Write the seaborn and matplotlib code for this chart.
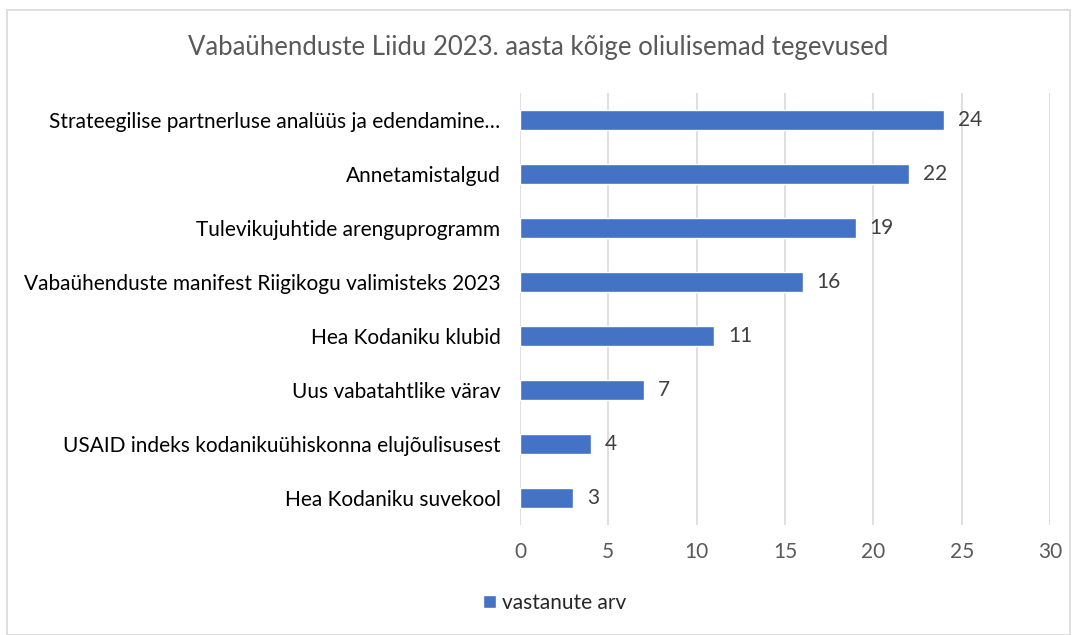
import numpy as np
import pandas as pd
import matplotlib
matplotlib.use('Agg')
import matplotlib.pyplot as plt
import seaborn as sns
from matplotlib.patches import Rectangle

categories = [
    "Strateegilise partnerluse analüüs ja edendamine…",
    "Annetamistalgud",
    "Tulevikujuhtide arenguprogramm",
    "Vabaühenduste manifest Riigikogu valimisteks 2023",
    "Hea Kodaniku klubid",
    "Uus vabatahtlike värav",
    "USAID indeks kodanikuühiskonna elujõulisusest",
    "Hea Kodaniku suvekool",
]
values = [24, 22, 19, 16, 11, 7, 4, 3]
series_name = "vastanute arv"
title = "Vabaühenduste Liidu 2023. aasta kõige oliulisemad tegevused"

sns.set_style("white")
plt.rcParams['font.family'] = ['Lato', 'DejaVu Sans']

df = pd.DataFrame({"tegevus": categories, "arv": values})

fig = plt.figure(figsize=(10.77, 6.35), dpi=100)
ax = fig.add_axes([520/1077, 1 - 525/635, 530/1077, 432/635])

sns.barplot(data=df, x="arv", y="tegevus", color="#4472C4", width=0.36,
            saturation=1, ax=ax, label=series_name)

ax.set_xlim(0, 30)
ax.set_xticks(range(0, 31, 5))
ax.grid(axis='x', color='#D9D9D9', linewidth=1.2)
ax.set_axisbelow(True)
for s in ax.spines.values():
    s.set_visible(False)
ax.set_xlabel("")
ax.set_ylabel("")
ax.tick_params(axis='x', colors='#595959', labelsize=15, length=0, pad=12)
ax.tick_params(axis='y', colors='black', labelsize=15, length=0, pad=14)
for lbl in ax.get_yticklabels():
    lbl.set_color('black')

for i, v in enumerate(values):
    ax.annotate(str(v), (v, i), xytext=(10, 0), textcoords='offset points',
                va='center', ha='left', fontsize=15, color='#404040')

fig.text(0.5, 1 - 47/635, title, ha='center', va='center', fontsize=18.5, color='#595959')

ax.legend(loc='center', bbox_to_anchor=(555/1077, 1 - 603/635), bbox_transform=fig.transFigure,
          frameon=False, fontsize=15, handlelength=0.6, handleheight=0.6, handletextpad=0.3)

fig.patches.append(Rectangle((7/1077, 0), 1063/1077, 1 - 10/635, transform=fig.transFigure,
                             fill=False, edgecolor='#D9D9D9', linewidth=1.2))

fig.savefig('out.png', dpi=100)
